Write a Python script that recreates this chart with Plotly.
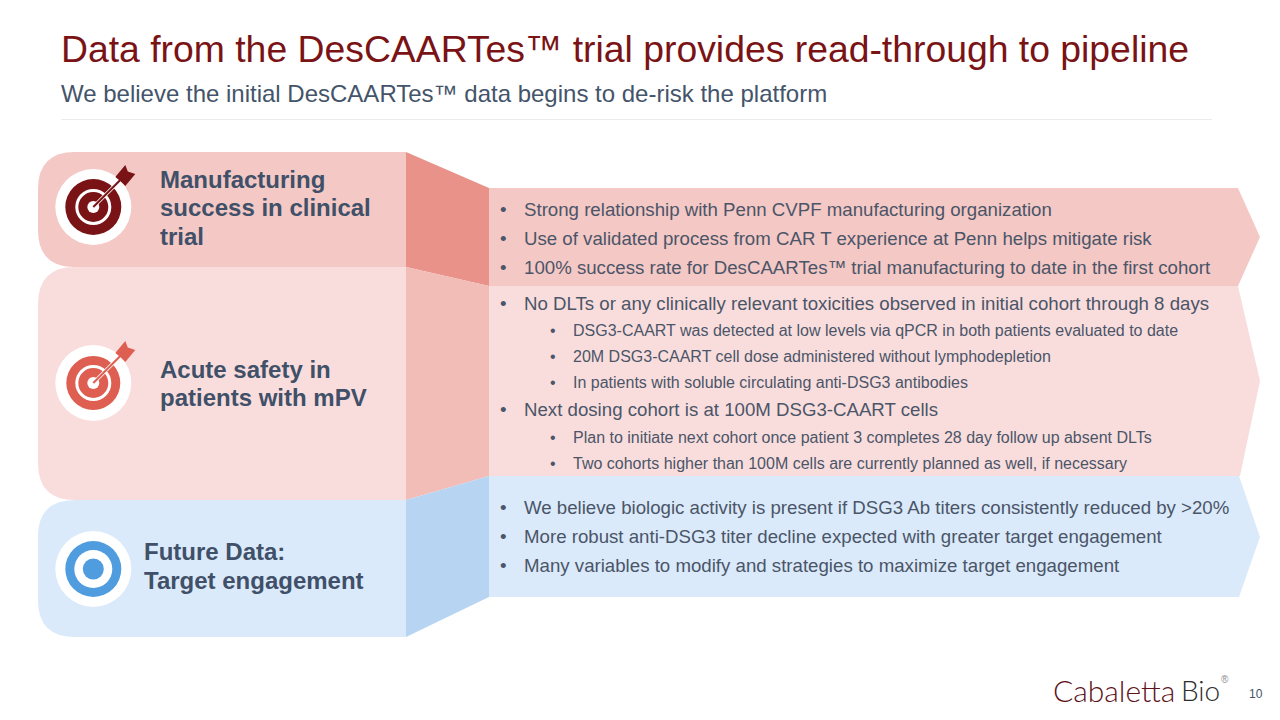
"""
Slide: DesCAARTes read-through to pipeline, drawn with plotly shapes and annotations.
"""
import plotly.graph_objects as go

TITLE = "Data from the DesCAARTes™ trial provides read-through to pipeline"
SUBTITLE = "We believe the initial DesCAARTes™ data begins to de-risk the platform"

manufacturing_label = ["Manufacturing", "success in clinical", "trial"]
safety_label = ["Acute safety in", "patients with mPV"]
future_label = ["Future Data:", "Target engagement"]

manufacturing_bullets = [
    "Strong relationship with Penn CVPF manufacturing organization",
    "Use of validated process from CAR T experience at Penn helps mitigate risk",
    "100% success rate for DesCAARTes™ trial manufacturing to date in the first cohort",
]
safety_bullets = [
    (1, "No DLTs or any clinically relevant toxicities observed in initial cohort through 8 days"),
    (2, "DSG3-CAART was detected at low levels via qPCR in both patients evaluated to date"),
    (2, "20M DSG3-CAART cell dose administered without lymphodepletion"),
    (2, "In patients with soluble circulating anti-DSG3 antibodies"),
    (1, "Next dosing cohort is at 100M DSG3-CAART cells"),
    (2, "Plan to initiate next cohort once patient 3 completes 28 day follow up absent DLTs"),
    (2, "Two cohorts higher than 100M cells are currently planned as well, if necessary"),
]
future_bullets = [
    "We believe biologic activity is present if DSG3 Ab titers consistently reduced by >20%",
    "More robust anti-DSG3 titer decline expected with greater target engagement",
    "Many variables to modify and strategies to maximize target engagement",
]

FONT = "Liberation Sans"
DARK_RED = "#7A1315"
SLATE = "#44546A"
BULLET_TEXT = "#4B5568"

fig = go.Figure()


def text(x, y, s, size, color, weight=400, family=FONT, anchor="left"):
    fig.add_annotation(x=x, y=y + 0.5, text=s, showarrow=False, xanchor=anchor, yanchor="middle",
                       align="left", borderpad=0,
                       font=dict(family=family, size=size, color=color, weight=weight))


def poly(points, color):
    path = "M " + " L ".join(f"{x} {y}" for x, y in points) + " Z"
    fig.add_shape(type="path", path=path, fillcolor=color, line_width=0, layer="below")


def rounded_band(y0, y1, color, r=37):
    path = (f"M 406 {y0} L {38 + r} {y0} Q 38 {y0} 38 {y0 + r} L 38 {y1 - r} "
            f"Q 38 {y1} {38 + r} {y1} L 406 {y1} Z")
    fig.add_shape(type="path", path=path, fillcolor=color, line_width=0, layer="below")


def circle(cx, cy, r, color):
    fig.add_shape(type="circle", x0=cx - r, x1=cx + r, y0=cy - r, y1=cy + r,
                  fillcolor=color, line_width=0)


def target(cx, cy, color, r_outer=28):
    circle(cx, cy, 38, "white")
    circle(cx, cy, r_outer, color)
    circle(cx, cy, 18, "white")
    circle(cx, cy, 15, color)
    circle(cx, cy, 6, "white")
    fig.add_shape(type="line", x0=cx, y0=cy, x1=cx + 22, y1=cy - 22,
                  line=dict(color="white", width=3.6))
    fig.add_shape(type="line", x0=cx, y0=cy, x1=cx + 28, y1=cy - 28,
                  line=dict(color=color, width=2))
    fletch = [(22, -30), (32, -42), (34.5, -35.5), (42, -33), (32, -21), (27, -26)]
    path = "M " + " L ".join(f"{cx + dx} {cy + dy}" for dx, dy in fletch) + " Z"
    fig.add_shape(type="path", path=path, fillcolor=color, line_width=0)


# bands, drawn top to bottom
rounded_band(152, 267, "#F4C8C5")
poly([(406, 152), (489, 188), (489, 286), (406, 267)], "#E8928A")
poly([(489, 188), (1238, 188), (1260, 237), (1238, 286), (489, 286)], "#F4C8C5")

rounded_band(267, 500, "#F9DDDD")
poly([(406, 267), (489, 286), (489, 476), (406, 500)], "#F2BCB7")
poly([(489, 286), (1238, 286), (1260, 381), (1240, 476), (489, 476)], "#F9DDDD")

rounded_band(500, 637, "#DAEAFA")
poly([(406, 500), (489, 476), (489, 597), (406, 637)], "#B7D5F2")
poly([(489, 476), (1239, 476), (1260, 537), (1239, 597), (489, 597)], "#DAEAFA")

target(93.3, 207, DARK_RED)
target(93.3, 383, "#DE5F52", r_outer=27)

circle(93.3, 569, 38, "white")
circle(93.3, 569, 28, "#4F9CDE")
circle(93.3, 569, 19, "white")
circle(93.3, 569, 10.5, "#4F9CDE")

# header
text(60, 48, TITLE, 37.33, DARK_RED)
text(60, 93, SUBTITLE, 24, SLATE)
fig.add_shape(type="line", x0=61, x1=1212, y0=119.5, y1=119.5, line=dict(color="#ECECEC", width=1))

# left labels
for y, s in zip([179, 207, 236], manufacturing_label):
    text(159, y, s, 24, "#3F5068", weight=700)
for y, s in zip([369, 397], safety_label):
    text(159, y, s, 24, "#3F5068", weight=700)
for y, s in zip([551, 580], future_label):
    text(143, y, s, 24, "#3F5068", weight=700)

# right bullets
for y, s in zip([209, 238, 267], manufacturing_bullets):
    text(499, y, "•", 18.67, BULLET_TEXT)
    text(523, y, s, 18.67, BULLET_TEXT)
for y, (level, s) in zip([303, 330, 356, 382, 409, 437, 463], safety_bullets):
    if level == 1:
        text(499, y, "•", 18.67, BULLET_TEXT)
        text(523, y, s, 18.67, BULLET_TEXT)
    else:
        text(549, y, "•", 16, BULLET_TEXT)
        text(572, y, s, 16, BULLET_TEXT)
for y, s in zip([507, 536, 565], future_bullets):
    text(499, y, "•", 18.67, BULLET_TEXT)
    text(523, y, s, 18.67, BULLET_TEXT)

# footer
text(1052, 689, "Cabaletta", 30, "#5E1219", weight=300, family="Lato")
text(1180, 689, "Bio", 28, "#2E2E2E", weight=300, family="Lato")
text(1220, 679, "®", 10, "#8A8A8A")
text(1248, 693, "10", 12, SLATE)

fig.update_xaxes(range=[0, 1280], visible=False, fixedrange=True)
fig.update_yaxes(range=[720, 0], visible=False, fixedrange=True)
fig.update_layout(width=1280, height=720, margin=dict(l=0, r=0, t=0, b=0),
                  paper_bgcolor="white", plot_bgcolor="white", showlegend=False)

fig.write_html("out.html", config={"displayModeBar": False},
               post_script="document.body.style.margin='0';")
